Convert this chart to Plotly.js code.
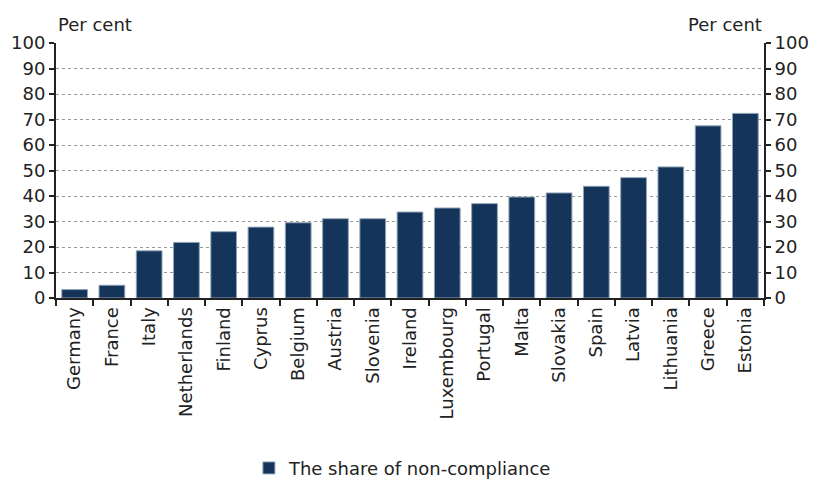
<!DOCTYPE html>
<html>
<head>
<meta charset="utf-8">
<script src="https://cdn.plot.ly/plotly-3.0.1.min.js"></script>
<style>html,body{margin:0;padding:0;background:#fff;}#chart{width:814px;height:479px;}</style>
</head>
<body>
<div id="chart"></div>
<script>
var countries = ["Germany","France","Italy","Netherlands","Finland","Cyprus","Belgium","Austria","Slovenia","Ireland","Luxembourg","Portugal","Malta","Slovakia","Spain","Latvia","Lithuania","Greece","Estonia"];
var shareNonCompliance = [3.3, 5.0, 18.5, 21.8, 26.0, 27.8, 29.5, 31.1, 31.1, 33.7, 35.3, 37.0, 39.6, 41.2, 43.8, 47.2, 51.4, 67.5, 72.4];
var yTicks = [0,10,20,30,40,50,60,70,80,90,100];
var seriesName = "The share of non-compliance";

var font = {family: "DejaVu Sans, Verdana, sans-serif", size: 18, color: "#222"};

var traces = [
  {type: "bar", x: countries, y: shareNonCompliance, name: seriesName,
   marker: {color: "#14345a", line: {color: "#8fa3b8", width: 1}}},
  {type: "scatter", mode: "none", x: countries, y: shareNonCompliance, yaxis: "y2",
   showlegend: false, hoverinfo: "skip"}
];

var yCommon = {
  range: [0, 100], tickvals: yTicks, ticktext: yTicks.map(String),
  showline: true, linecolor: "#222", linewidth: 2,
  ticks: "outside", ticklen: 5, tickwidth: 2, tickcolor: "#222",
  tickfont: font, zeroline: false, fixedrange: true
};

var layout = {
  width: 814, height: 479,
  margin: {l: 56, r: 50, t: 43, b: 181, autoexpand: false},
  paper_bgcolor: "#fff", plot_bgcolor: "#fff",
  font: font,
  bargap: 0.31,
  showlegend: true,
  legend: {orientation: "h", x: 0.49, xanchor: "center", y: -0.595, yanchor: "top",
           font: font, itemwidth: 30, borderwidth: 0},
  xaxis: {
    type: "category", tickangle: -90, tickson: "boundaries",
    ticks: "outside", ticklen: 6, tickwidth: 2, tickcolor: "#222",
    showline: true, linecolor: "#222", linewidth: 2,
    tickfont: font, showgrid: false, fixedrange: true
  },
  yaxis: Object.assign({}, yCommon, {
    side: "left", showgrid: true, gridcolor: "#999", griddash: "dot", gridwidth: 1
  }),
  yaxis2: Object.assign({}, yCommon, {
    side: "right", overlaying: "y", showgrid: false
  }),
  annotations: [
    {text: "Per cent", xref: "paper", yref: "paper", x: 0, y: 1, xanchor: "left", yanchor: "bottom",
     yshift: 6, showarrow: false, font: font},
    {text: "Per cent", xref: "paper", yref: "paper", x: 1, y: 1, xanchor: "right", yanchor: "bottom",
     yshift: 6, showarrow: false, font: font}
  ]
};

Plotly.newPlot("chart", traces, layout, {displayModeBar: false, staticPlot: true});
</script>
</body>
</html>
